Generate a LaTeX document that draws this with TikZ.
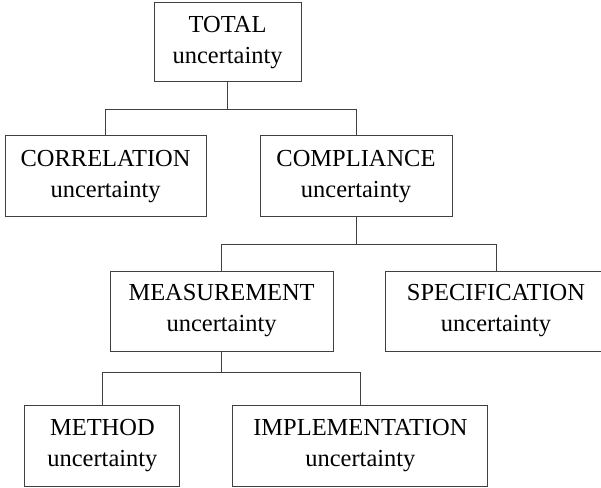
\documentclass[tikz,border=0pt]{standalone}
\usepackage{fontspec}
\setmainfont{Liberation Serif}

\begin{document}
\begin{tikzpicture}[
        box/.style={draw=black!75, line width=0.6pt, align=center, inner sep=0pt,
            minimum height=2cm, font=\fontsize{17.4}{22}\selectfont},
        link/.style={draw=black!75, line width=0.6pt}
    ]
                \useasboundingbox (0, 0) rectangle (15.025, -12.2);

                \node (total) at (5.69, -1.06) [box, minimum width=3.675cm, minimum height=1.975cm] {TOTAL\\uncertainty};

                \node (corr) at (2.64, -4.41) [box, minimum width=5.025cm, minimum height=2.025cm] {CORRELATION\\uncertainty};
                \node (compl) at (8.9, -4.41) [box, minimum width=4.8cm, minimum height=2.025cm] {COMPLIANCE\\uncertainty};

                \node (meas) at (5.54, -7.775) [box, minimum width=5.575cm] {MEASUREMENT\\uncertainty};
                \node (spec) at (12.4, -7.775) [box, minimum width=5.55cm] {SPECIFICATION\\uncertainty};

                \node (meth) at (2.56, -11.14) [box, minimum width=3.875cm, minimum height=2.025cm] {METHOD\\uncertainty};
                \node (impl) at (9.01, -11.14) [box, minimum width=6.375cm, minimum height=2.025cm] {IMPLEMENTATION\\uncertainty};

                % branch points under each parent
                \draw[link] (total.south) -- ++(0, -0.675) coordinate (j1);
                \draw[link] (j1) -| (corr.north);
                \draw[link] (j1) -| (compl.north);

                \draw[link] (compl.south) -- ++(0, -0.675) coordinate (j2);
                \draw[link] (j2) -| (meas.north);
                \draw[link] (j2) -| (spec.north);

                \draw[link] (meas.south) -- ++(0, -0.525) coordinate (j3);
                \draw[link] (j3) -| (meth.north);
                \draw[link] (j3) -| (impl.north);
            \end{tikzpicture}
\end{document}
